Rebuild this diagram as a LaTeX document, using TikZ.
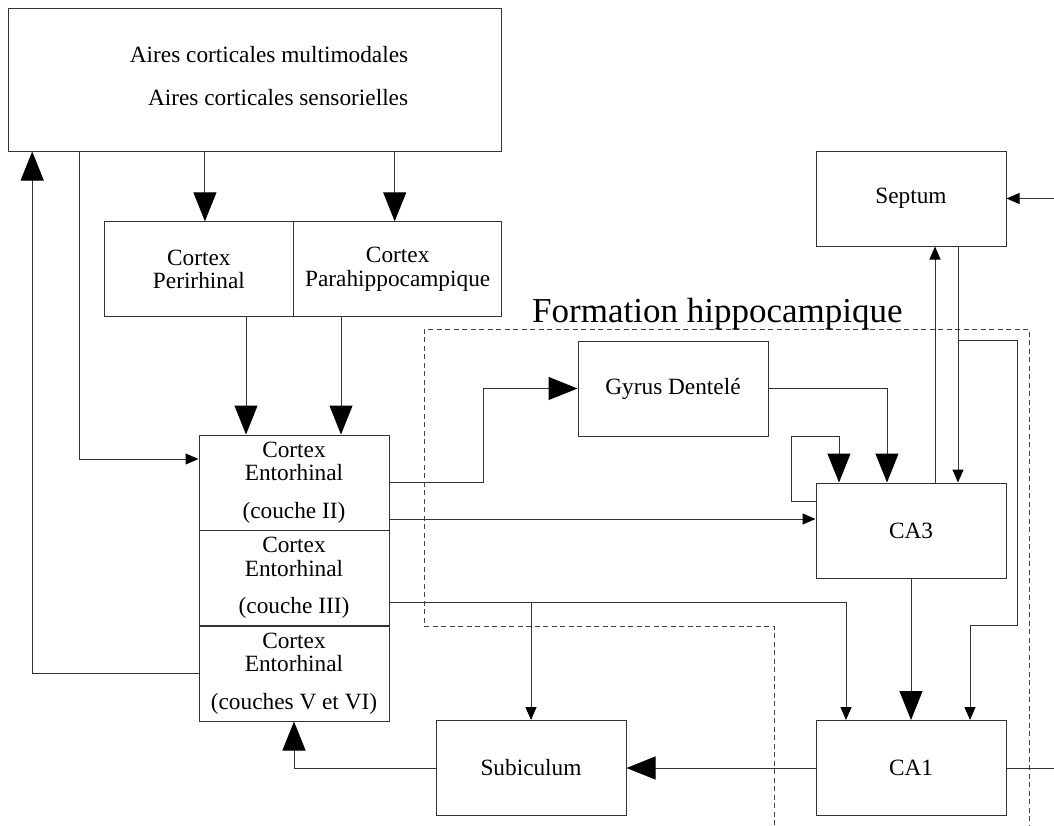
\documentclass[tikz,border=0pt]{standalone}
\usepackage{fontspec}
\setmainfont{Liberation Serif}
\usepackage{tikz}
\usetikzlibrary{arrows.meta}
\definecolor{trait}{HTML}{333333}
\definecolor{tiret}{HTML}{444444}
\tikzset{
  gros/.style={-{Triangle[length=29pt,width=23pt,color=black]},line width=1pt,trait},
  fin/.style={-{Triangle[length=13pt,width=11pt,color=black]},line width=1pt,trait},
  texte/.style={font=\fontsize{23.3}{23.3}\selectfont},
  boite/.style={texte,draw=trait,line width=1pt,align=center,inner sep=0pt,minimum width=190pt,minimum height=95pt},
  pointille/.style={tiret,line width=1pt,dash pattern=on 5pt off 3.5pt}
}
\begin{document}
\begin{tikzpicture}[x=1pt,y=-1pt]
\useasboundingbox (0,0) rectangle (1054,825);
\draw[pointille] (774,825) -- (774,626) -- (424,626) -- (424,329) -- (1029,329) -- (1029,825);
\node[boite,minimum width=493pt,minimum height=143pt] (aires) at (255,79.5) {};
\node[texte,align=right] (airestxt) at (269,76) {Aires corticales multimodales\\[20pt]Aires corticales sensorielles};
\node[boite,minimum width=189.7pt] (peri) at (198.9,269.3) {Cortex\\Perirhinal};
\node[boite,minimum width=208pt] (para) at (397.7,269.3) {Cortex\\Parahippocampique};
\node[boite] (ec2) at (294,482.5) {Cortex\\Entorhinal\\[14pt](couche II)};
\node[boite] (ec3) at (294,578) {Cortex\\Entorhinal\\[14pt](couche III)};
\node[boite] (ec5) at (294,673.5) {Cortex\\Entorhinal\\[14pt](couches V et VI)};
\node[boite] (gyrus) at (673,388.5) {Gyrus Dentelé};
\node[boite] (septum) at (911,198.5) {Septum};
\node[boite] (ca3) at (911,530.5) {CA3};
\node[boite] (ca1) at (911,768) {CA1};
\node[boite] (subic) at (531,768) {Subiculum};
\node[font=\fontsize{35}{35}\selectfont,anchor=base west,inner sep=0pt] (titre) at (532,322) {Formation hippocampique};
\draw[gros] (ec5.west) -| ([xshift=24.2pt]aires.south west);
\draw[fin] ([xshift=71.5pt]aires.south west) |- ([yshift=23.5pt]ec2.west);
\draw[gros] ([xshift=6pt]aires.south -| peri.north) -- ([xshift=6pt]peri.north);
\draw[gros] ([xshift=-3pt]aires.south -| para.north) -- ([xshift=-3pt]para.north);
\draw[gros] ([xshift=-48pt]ec2.north |- peri.south) -- ([xshift=-48pt]ec2.north);
\draw[gros] ([xshift=47pt]ec2.north |- para.south) -- ([xshift=47pt]ec2.north);
\draw[gros] (ec2.east) -- ++(94,0) |- (gyrus.west);
\draw[fin] ([yshift=-36.5pt]ec2.east) -- ([yshift=-36.5pt]ec2.east -| ca3.west);
\draw[fin] ([yshift=-24pt]ec3.east) -| ([xshift=-65pt]ca1.north);
\draw[fin] ([yshift=-24pt]ec3.east -| subic.north) -- (subic.north);
\draw[gros] (subic.west) -| (ec5.south);
\draw[gros] (ca1.west) -- (subic.east);
\draw[gros] (ca3.south) -- (ca1.north);
\draw[trait,line width=1pt] (ca1.east) -- ++(48,0);
\draw[fin] ([xshift=48pt]septum.east) -- (septum.east);
\draw[fin] ([xshift=24pt]ca3.north) -- ([xshift=24pt]septum.south);
\draw[fin] ([xshift=47pt]septum.south) -- ([xshift=47pt]ca3.north);
\draw[fin] ([xshift=47pt]septum.south |- gyrus.north) -- ++(59,0) -- ++(0,285) -| ([xshift=59pt]ca1.north);
\draw[gros] (gyrus.east) -| ([xshift=-24pt]ca3.north);
\draw[gros] ([yshift=29.5pt]ca3.west) -- ++(-24,0) |- ([xshift=-72pt]ca3.north |- gyrus.south) -- ([xshift=-72pt]ca3.north);
\end{tikzpicture}
\end{document}
